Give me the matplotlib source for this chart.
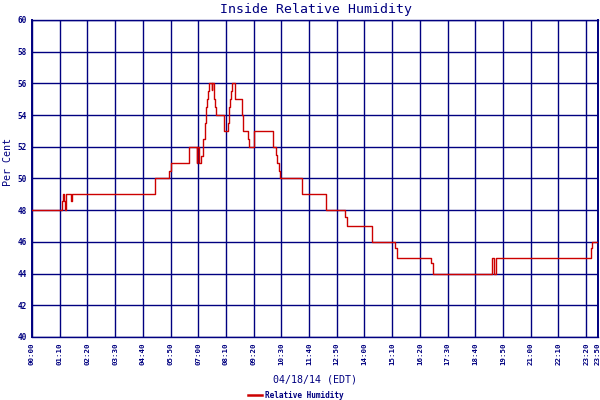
import matplotlib
matplotlib.use('Agg')
from matplotlib import pyplot as plt

NAVY = '#000080'
RED = '#cc0000'

# minutes after midnight where the reading changes, and the new reading
minutes = [0, 76, 78, 81, 83, 86, 98, 102, 311, 347, 350, 396, 416, 418, 421, 428,
           433, 436, 439, 441, 444, 446, 454, 456, 460, 462, 464, 486, 496, 498, 501,
           503, 505, 512, 530, 533, 546, 549, 561, 609, 616, 619, 623, 626, 681, 683,
           744, 792, 795, 859, 918, 921, 1009, 1013, 1163, 1166, 1172, 1413, 1416, 1430]
rh = [48, 48.6, 49, 48.6, 48, 49, 48.6, 49, 50, 50.5, 51, 52, 51, 52, 51, 51.4,
      52.5, 53.5, 54.5, 55, 55.5, 56, 55.6, 56, 55, 54.5, 54, 53, 53.5, 54.5, 55,
      55.5, 56, 55, 54, 53, 52.5, 52, 53, 52, 51.5, 51, 50.5, 50, 49.6, 49,
      48, 47.6, 47, 46, 45.6, 45, 44.7, 44, 45, 44, 45, 45.6, 46, 46]

tick_minutes = [0, 70, 140, 210, 280, 350, 420, 490, 560, 630, 700, 770, 840, 910,
                980, 1050, 1120, 1190, 1260, 1330, 1400, 1430]
tick_labels = ['00:00', '01:10', '02:20', '03:30', '04:40', '05:50', '07:00', '08:10',
               '09:20', '10:30', '11:40', '12:50', '14:00', '15:10', '16:20', '17:30',
               '18:40', '19:50', '21:00', '22:10', '23:20', '23:50']
y_ticks = [40, 42, 44, 46, 48, 50, 52, 54, 56, 58, 60]

plt.rcParams['font.family'] = 'DejaVu Sans Mono'

fig = plt.figure(figsize=(6, 4), dpi=100)
ax = fig.add_axes([32 / 600, 63 / 400, 566 / 600, 317 / 400])

ax.step(minutes, rh, where='post', color=RED, linewidth=1.0, zorder=3)

ax.set_xlim(0, 1430)
ax.set_ylim(40, 60)
ax.set_xticks(tick_minutes)
ax.set_xticklabels(tick_labels, rotation=90, fontsize=5.3, fontweight='bold', color=NAVY)
ax.set_yticks(y_ticks)
ax.set_yticklabels([str(v) for v in y_ticks], fontsize=5.6, fontweight='bold', color=NAVY)
ax.tick_params(length=0)
ax.tick_params(axis='x', pad=4)
ax.tick_params(axis='y', pad=4)
ax.grid(True, color=NAVY, linewidth=1.0)
ax.set_axisbelow(True)
for side in ['top', 'bottom']:
    ax.spines[side].set_color(NAVY)
    ax.spines[side].set_linewidth(1.0)
for side in ['left', 'right']:
    ax.spines[side].set_color(NAVY)
    ax.spines[side].set_linewidth(1.4)

fig.text(316 / 600, 1 - 9 / 400, 'Inside Relative Humidity', ha='center', va='center',
         fontsize=9.5, color=NAVY)
fig.text(315 / 600, 1 - 380 / 400, '04/18/14 (EDT)', ha='center', va='center',
         fontsize=7.2, color=NAVY)
fig.text(8 / 600, 1 - 162 / 400, 'Per Cent', ha='center', va='center', rotation=90,
         fontsize=7.2, color=NAVY)

# legend at the bottom
fig.add_artist(plt.Line2D([248 / 600, 262 / 600], [1 - 395 / 400, 1 - 395 / 400],
                          color=RED, linewidth=1.8))
fig.text(265 / 600, 1 - 395 / 400, 'Relative Humidity', ha='left', va='center',
         fontsize=5.6, fontweight='bold', color=NAVY)

fig.savefig('out.png', dpi=100)
